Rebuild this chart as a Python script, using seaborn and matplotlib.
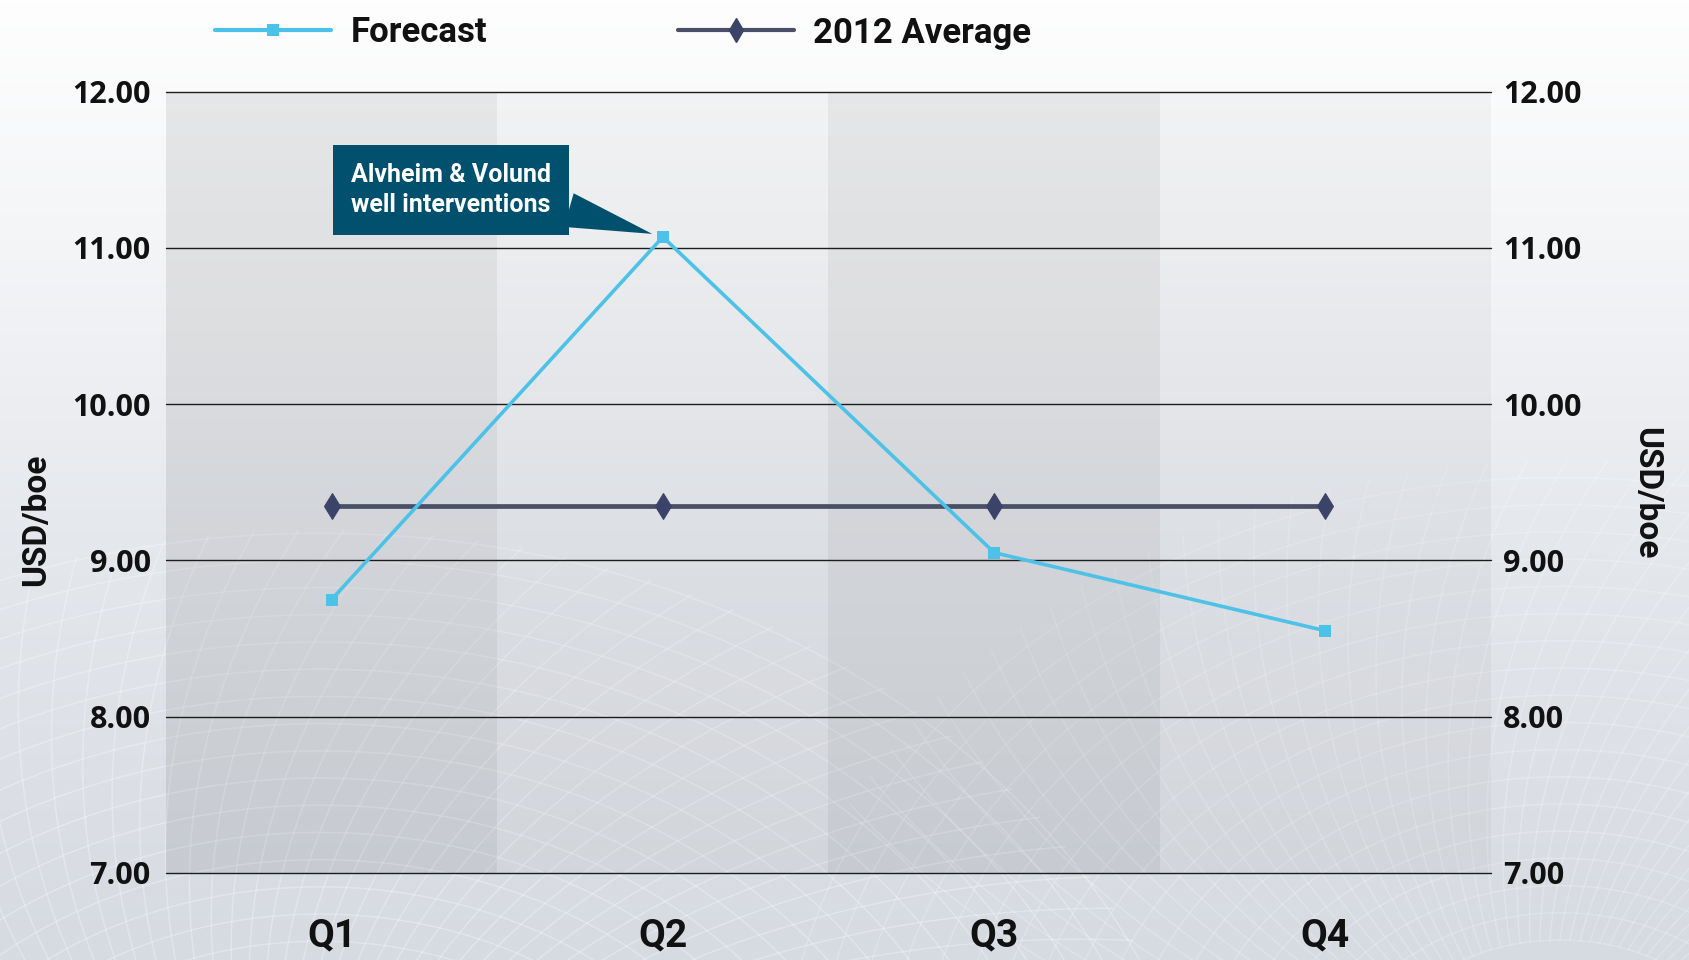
import numpy as np
import pandas as pd
import matplotlib
matplotlib.use("Agg")
import matplotlib.pyplot as plt
import seaborn as sns
from matplotlib.colors import LinearSegmentedColormap
from matplotlib.lines import Line2D

# ---- data -------------------------------------------------------------
quarters = ["Q1", "Q2", "Q3", "Q4"]
forecast = [8.75, 11.07, 9.05, 8.55]
average_2012 = [9.35, 9.35, 9.35, 9.35]
y_ticks = [7.0, 8.0, 9.0, 10.0, 11.0, 12.0]
y_tick_labels = [f"{v:.2f}" for v in y_ticks]
series_names = ["Forecast", "2012 Average"]
unit_label = "USD/boe"
callout_text = "Alvheim & Volund\nwell interventions"

# ---- style ------------------------------------------------------------
sns.set_theme(style="white")
NARROW = ["Roboto", "DejaVu Sans"]
NUMERIC = ["Open Sans", "DejaVu Sans"]
plt.rcParams["font.family"] = NARROW

FORECAST_C = "#4cc2e8"
AVERAGE_C = "#4a4e66"
DIAMOND_C = "#3b4468"
CALLOUT_C = "#00506e"
INK = "#111111"

W, H = 1690, 960
fig = plt.figure(figsize=(W / 100, H / 100), dpi=100)

# ---- soft gradient backdrop with a faint wire mesh ----------------------
bg = fig.add_axes([0, 0, 1, 1], zorder=-10)
bg.set_axis_off()
grad = np.linspace(0, 1, 256)[:, None]
cmap = LinearSegmentedColormap.from_list(
    "backdrop", [(0, "#fefefe"), (0.25, "#f4f5f7"), (0.6, "#e3e6eb"), (1, "#d6dae1")])
bg.imshow(grad, aspect="auto", cmap=cmap, extent=[0, W, H, 0], origin="upper")


def mesh(cx, cy, r0, r1, a0, a1, alpha):
    t = np.linspace(a0, a1, 200)
    for r in np.arange(r0, r1, 34):
        bg.plot(cx + r * np.cos(t), cy + r * np.sin(t) * 0.8,
                color="white", lw=1.1, alpha=alpha)
    rr = np.linspace(r0, r1, 50)
    for a in np.arange(a0, a1, 0.05):
        bg.plot(cx + rr * np.cos(a + 0.0006 * rr), cy + rr * np.sin(a + 0.0006 * rr) * 0.8,
                color="white", lw=1.1, alpha=alpha)


mesh(320, 1250, 250, 900, np.pi * 1.05, np.pi * 1.95, 0.28)
mesh(1560, 1100, 200, 800, np.pi * 1.0, np.pi * 1.9, 0.22)
bg.set_xlim(0, W)
bg.set_ylim(H, 0)

# ---- main axes ----------------------------------------------------------
ax = fig.add_axes([166 / W, 87 / H, 1325 / W, 781.4 / H])
ax.patch.set_alpha(0)

for i, a in enumerate([0.08, 0.03, 0.08, 0.03]):
    ax.axvspan(i - 0.5, i + 0.5, color="black", alpha=a, lw=0, zorder=0)

for v in y_ticks:
    ax.axhline(v, color="#1c1c1c", lw=1.0, zorder=1, clip_on=False)

df = pd.DataFrame({"quarter": quarters, "pos": np.arange(len(quarters)),
                   "Forecast": forecast, "2012 Average": average_2012})

sns.lineplot(data=df, x="pos", y="2012 Average", ax=ax, color=AVERAGE_C, lw=3.4,
             marker="d", markersize=13, markerfacecolor=DIAMOND_C,
             markeredgecolor=DIAMOND_C, legend=False, zorder=3)
sns.lineplot(data=df, x="pos", y="Forecast", ax=ax, color=FORECAST_C, lw=2.6,
             marker="s", markersize=8, markerfacecolor=FORECAST_C,
             markeredgewidth=0, legend=False, zorder=4)

ax.set_xlim(-0.5, 3.5)
ax.set_ylim(7, 12)
ax.set_xticks(df["pos"], quarters)
ax.set_yticks(y_ticks, y_tick_labels)
ax.set_xlabel("")
ax.set_ylabel("")
ax.tick_params(axis="x", length=0, pad=32, labelsize=28, colors=INK)
ax.tick_params(axis="y", length=0, pad=11, labelsize=22, colors=INK)
for lbl in ax.get_xticklabels():
    lbl.set_fontweight("bold")
for lbl in ax.get_yticklabels():
    lbl.set_fontfamily(NUMERIC)
    lbl.set_fontweight("bold")
for s in ax.spines.values():
    s.set_visible(False)

ax2 = ax.twinx()
ax2.set_ylim(ax.get_ylim())
ax2.set_yticks(y_ticks, y_tick_labels)
ax2.tick_params(axis="y", length=0, pad=8.6, labelsize=22, colors=INK)
for lbl in ax2.get_yticklabels():
    lbl.set_fontfamily(NUMERIC)
    lbl.set_fontweight("bold")
for s in ax2.spines.values():
    s.set_visible(False)
ax2.grid(False)

label_font = dict(fontsize=24, fontweight="bold", color=INK)
ax.set_ylabel(unit_label, va="center", **label_font)
ax.yaxis.set_label_coords(-0.098, 0.452)
ax2.set_ylabel(unit_label, rotation=270, va="center", **label_font)
ax2.yaxis.set_label_coords(1.117, 0.486)

# ---- callout --------------------------------------------------------------
ax.annotate(callout_text, xy=(1, forecast[1]), xycoords="data",
            xytext=(-212, 47), textcoords="offset pixels",
            ha="center", va="center", multialignment="left",
            color="white", fontsize=18, fontweight="bold", linespacing=1.3,
            bbox=dict(boxstyle="square,pad=0.72", fc=CALLOUT_C, ec="none"),
            arrowprops=dict(arrowstyle="wedge,tail_width=1.4,shrink_factor=0.5",
                            fc=CALLOUT_C, ec="none", relpos=(1.0, 0.22),
                            shrinkA=0, shrinkB=8),
            zorder=6)

# ---- legend -----------------------------------------------------------------
handles = [
    Line2D([], [], color=FORECAST_C, lw=3.0, marker="s", markersize=9,
           markeredgewidth=0, markerfacecolor=FORECAST_C),
    Line2D([], [], color=AVERAGE_C, lw=3.0, marker="d", markersize=12,
           markerfacecolor=DIAMOND_C, markeredgecolor=DIAMOND_C),
]
legend_prop = dict(size=25, weight="bold", family=NARROW)
for h, name, x0 in zip(handles, series_names, [215, 678]):
    fig.legend([h], [name], loc="center left", bbox_to_anchor=(x0 / W, 1 - 33 / H),
               frameon=False, prop=legend_prop, handlelength=3.35,
               handletextpad=0.55, borderpad=0, borderaxespad=0, labelcolor=INK)

fig.savefig("out.png", dpi=100)
